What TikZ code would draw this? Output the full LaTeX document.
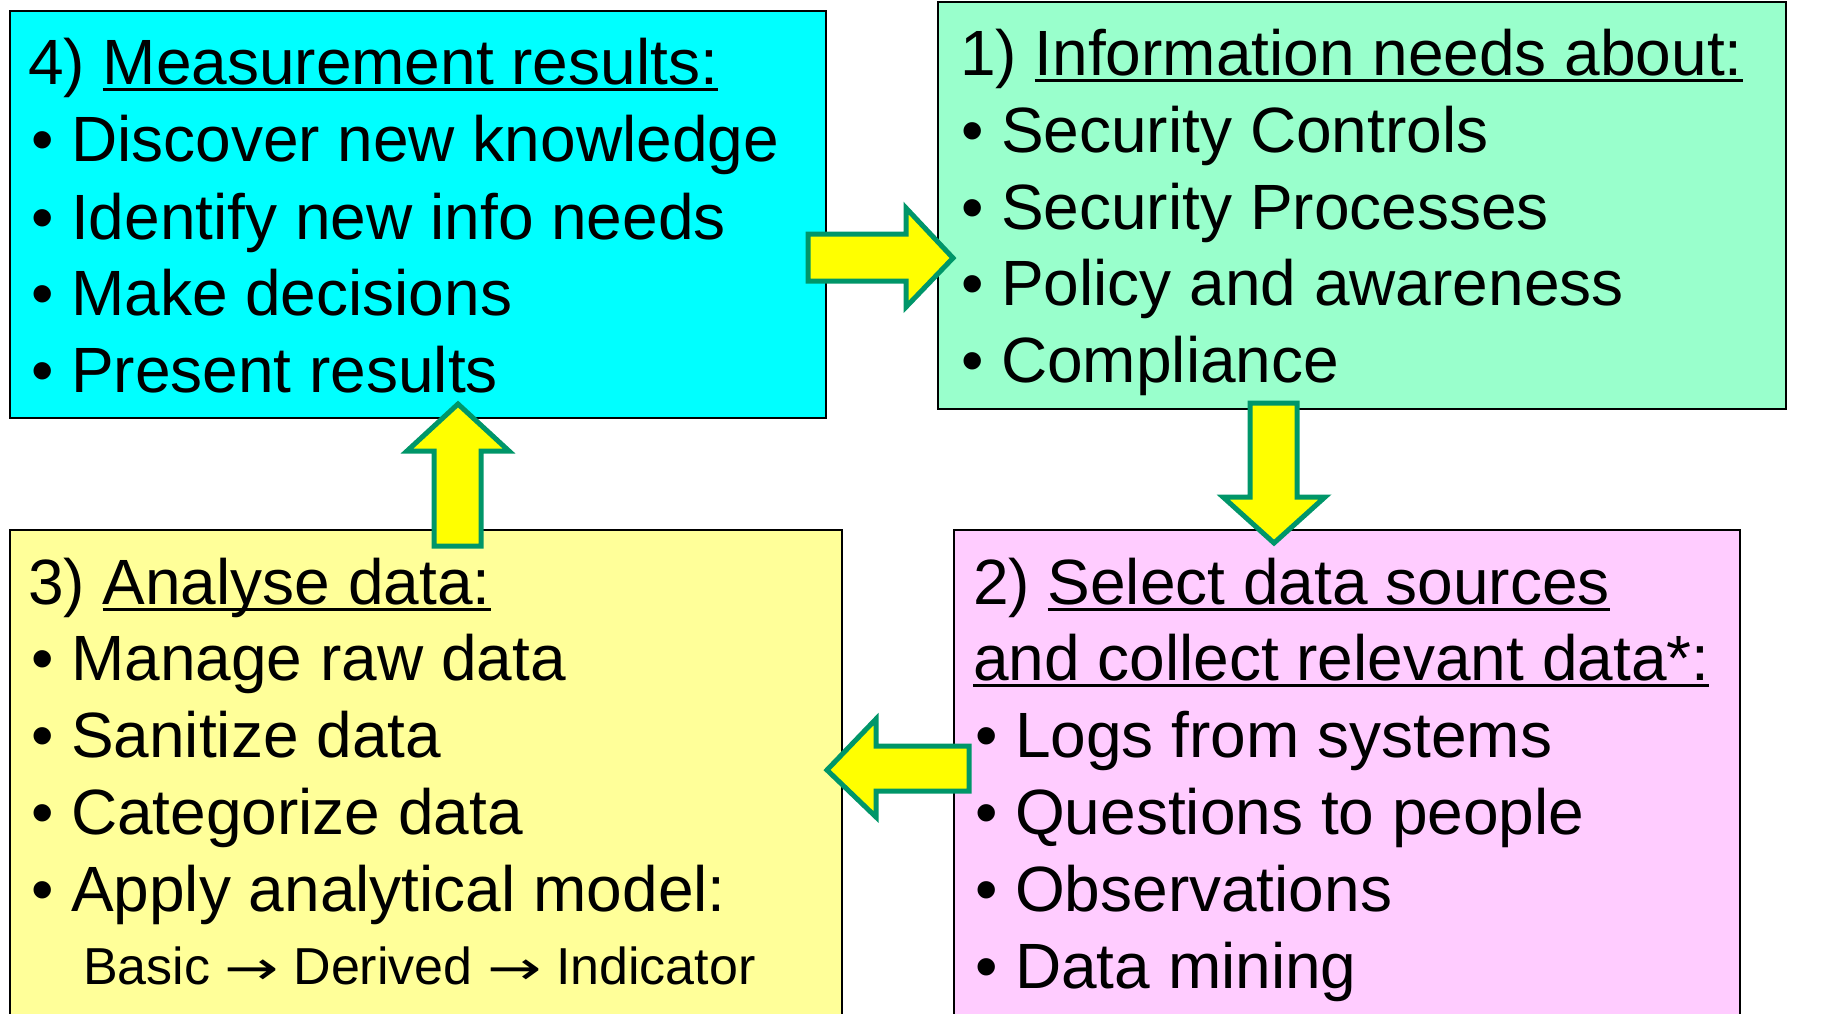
\documentclass[tikz,border=0pt]{standalone}
\usepackage{fontspec}
\setmainfont{Liberation Sans}
\newfontfamily\djv{DejaVu Sans}
\definecolor{cyanbox}{RGB}{0,255,255}
\definecolor{greenbox}{RGB}{153,255,204}
\definecolor{yellowbox}{RGB}{255,255,153}
\definecolor{pinkbox}{RGB}{255,204,255}
\definecolor{arrowfill}{RGB}{255,255,0}
\definecolor{arrowline}{RGB}{0,150,105}
\newcommand\myul[1]{\setbox0\hbox{#1}\makebox[0pt][l]{\rule[-7pt]{\wd0}{3.5pt}}\box0}
\newcommand\myarr{{\djv\scalebox{1.25}[0.9]{→}}}
\begin{document}
\begin{tikzpicture}[x=1pt,y=-1pt,
  box/.style={draw=black, line width=2.5pt, inner sep=0pt, outer sep=0pt, anchor=north west},
  txt/.style={anchor=base west, inner sep=0pt, outer sep=0pt, font=\fontsize{64}{74}\selectfont},
  smalltxt/.style={anchor=base west, inner sep=0pt, outer sep=0pt, font=\fontsize{52}{60}\selectfont},
  blockarrow/.style={fill=arrowfill, draw=arrowline, line width=5pt, line join=miter}]
\useasboundingbox (0,0) rectangle (1827,1013);
\clip (0,0) rectangle (1827,1013);
% boxes
\node[box, fill=cyanbox, minimum width=816pt, minimum height=407pt] (b4) at (10,11) {};
\node[box, fill=greenbox, minimum width=848pt, minimum height=407pt] (b1) at (938,2) {};
\node[box, fill=yellowbox, minimum width=832pt, minimum height=520pt] (b3) at (10,530) {};
\node[box, fill=pinkbox, minimum width=786pt, minimum height=520pt] (b2) at (954,530) {};
% box 4 text
\node[txt] (t4a) at (28,84) {4) \myul{Measurement results:}};
\node[txt] (t4b) at (31,161) {• Discover new knowledge};
\node[txt] (t4c) at (31,239) {• Identify new info needs};
\node[txt] (t4d) at (31,315) {• Make decisions};
\node[txt] (t4e) at (31,392) {• Present results};
% box 1 text
\node[txt] (t1a) at (960,75) {1) \myul{Information needs about:}};
\node[txt] (t1b) at (961,152) {• Security Controls};
\node[txt] (t1c) at (961,229) {• Security Processes};
\node[txt] (t1d) at (961,305) {• Policy and awareness};
\node[txt] (t1e) at (961,382) {• Compliance};
% box 3 text
\node[txt] (t3a) at (28,604) {3) \myul{Analyse data:}};
\node[txt] (t3b) at (31,680) {• Manage raw data};
\node[txt] (t3c) at (31,757) {• Sanitize data};
\node[txt] (t3d) at (31,834) {• Categorize data};
\node[txt] (t3e) at (31,911) {• Apply analytical model:};
\node[smalltxt] (t3f) at (83,984) {Basic \myarr\ Derived \myarr\ Indicator};
% box 2 text
\node[txt] (t2a) at (973,604) {2) \myul{Select data sources}};
\node[txt] (t2b) at (973,680) {\myul{and collect relevant data*:}};
\node[txt] (t2c) at (975,757) {• Logs from systems};
\node[txt] (t2d) at (975,834) {• Questions to people};
\node[txt] (t2e) at (975,911) {• Observations};
\node[txt] (t2f) at (975,988) {• Data mining};
% block arrows
\draw[blockarrow] (808,234) -- (906,234) -- (906,208) -- (953,258) -- (906,307) -- (906,281) -- (808,281) -- cycle;
\draw[blockarrow] (434,546) -- (434,451) -- (407,451) -- (458,404) -- (509,451) -- (481,451) -- (481,546) -- cycle;
\draw[blockarrow] (1250,403) -- (1297,403) -- (1297,497) -- (1325,497) -- (1274,543) -- (1223,497) -- (1250,497) -- cycle;
\draw[blockarrow] (969,746) -- (876,746) -- (876,719) -- (827,770) -- (876,817) -- (876,791) -- (969,791) -- cycle;
\end{tikzpicture}
\end{document}
